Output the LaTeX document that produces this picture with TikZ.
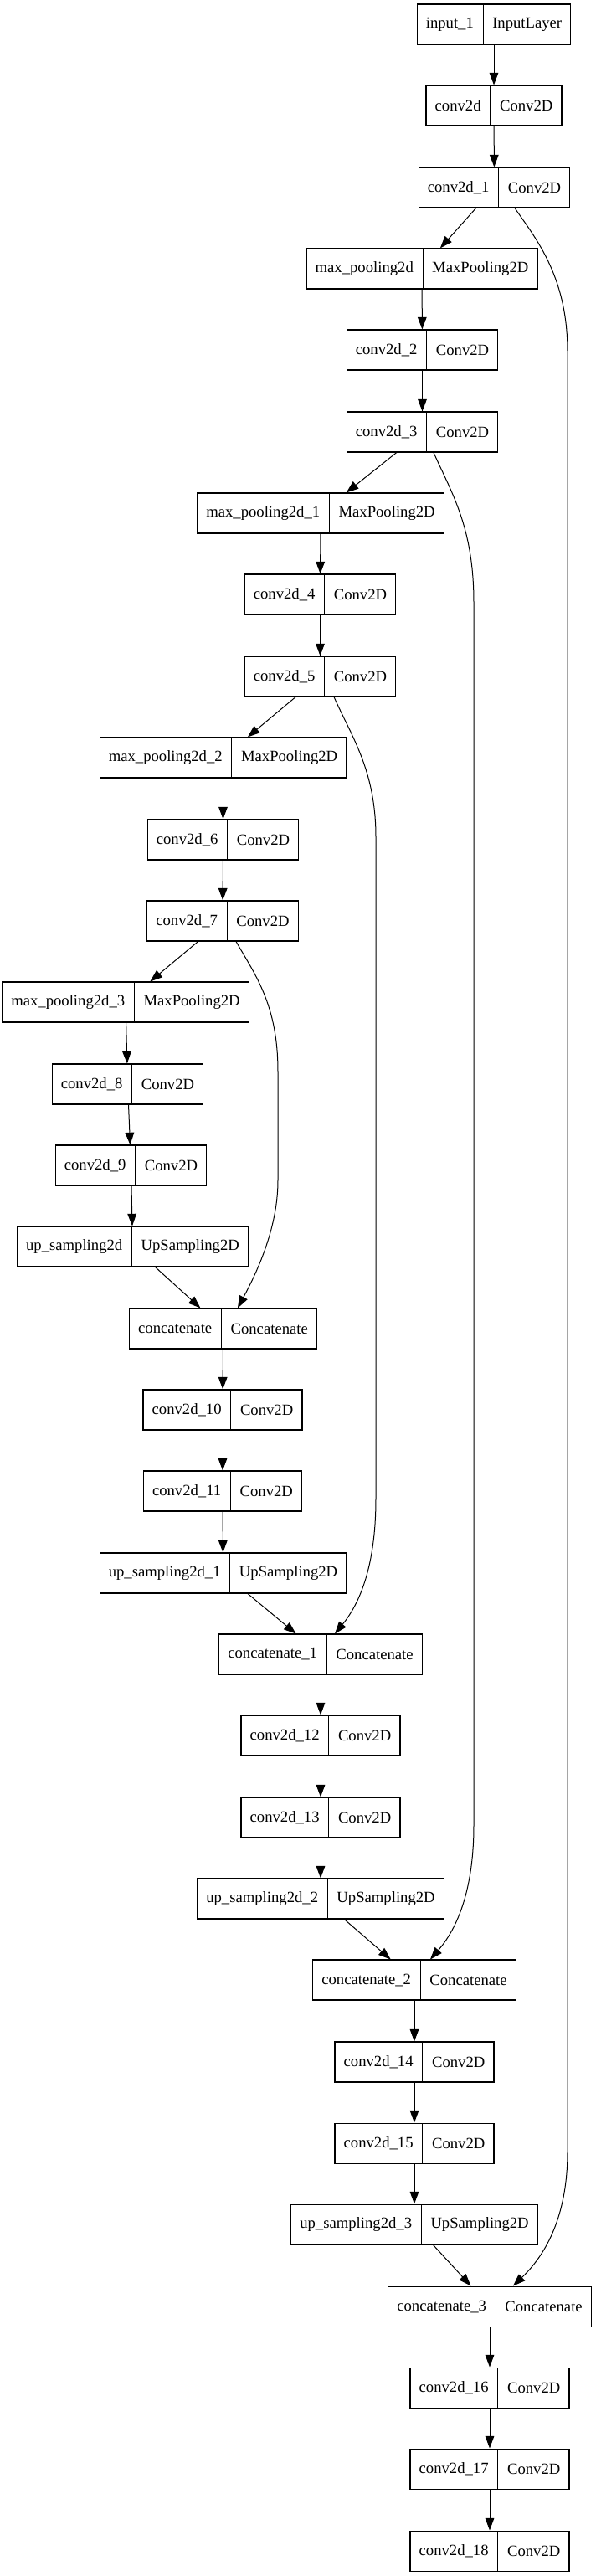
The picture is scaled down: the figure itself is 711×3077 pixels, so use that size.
\documentclass[tikz,border=0pt]{standalone}
\usepackage{fontspec}
\setmainfont{Liberation Serif}
\usetikzlibrary{shapes.multipart,arrows.meta}
\tikzset{
  layer/.style={draw, line width=0.8pt, rectangle split, rectangle split horizontal, rectangle split parts=2,
    inner xsep=8pt, minimum height=36pt, font=\fontsize{14pt}{17pt}\selectfont},
  edge/.style={-{Triangle[length=11pt,width=8pt]}, line width=0.75pt}
}
\begin{document}
\begin{tikzpicture}[x=0.75pt,y=-0.75pt]
  \useasboundingbox (0,0) rectangle (711,3077);
  % encoder
  \node[layer] (input) at (590,29) {input\_1 \nodepart{two} InputLayer};
  \node[layer] (conv0) at (590,126) {conv2d \nodepart{two} Conv2D};
  \node[layer] (conv1) at (590.5,224) {conv2d\_1 \nodepart{two} Conv2D};
  \node[layer] (pool0) at (504,321) {max\_pooling2d \nodepart{two} MaxPooling2D};
  \node[layer] (conv2) at (504.5,418) {conv2d\_2 \nodepart{two} Conv2D};
  \node[layer] (conv3) at (504.5,516) {conv2d\_3 \nodepart{two} Conv2D};
  \node[layer] (pool1) at (383,613) {max\_pooling2d\_1 \nodepart{two} MaxPooling2D};
  \node[layer] (conv4) at (382.5,710) {conv2d\_4 \nodepart{two} Conv2D};
  \node[layer] (conv5) at (382.5,808) {conv2d\_5 \nodepart{two} Conv2D};
  \node[layer] (pool2) at (266.5,905) {max\_pooling2d\_2 \nodepart{two} MaxPooling2D};
  \node[layer] (conv6) at (266.5,1003) {conv2d\_6 \nodepart{two} Conv2D};
  \node[layer] (conv7) at (266,1100) {conv2d\_7 \nodepart{two} Conv2D};
  \node[layer] (pool3) at (150,1197) {max\_pooling2d\_3 \nodepart{two} MaxPooling2D};
  \node[layer] (conv8) at (152.5,1295) {conv2d\_8 \nodepart{two} Conv2D};
  \node[layer] (conv9) at (156.5,1392) {conv2d\_9 \nodepart{two} Conv2D};
  % decoder
  \node[layer] (up0) at (158.5,1489) {up\_sampling2d \nodepart{two} UpSampling2D};
  \node[layer] (cat0) at (266.5,1587) {concatenate \nodepart{two} Concatenate};
  \node[layer] (conv10) at (266,1684) {conv2d\_10 \nodepart{two} Conv2D};
  \node[layer] (conv11) at (266,1781) {conv2d\_11 \nodepart{two} Conv2D};
  \node[layer] (up1) at (266.5,1879) {up\_sampling2d\_1 \nodepart{two} UpSampling2D};
  \node[layer] (cat1) at (383,1976) {concatenate\_1 \nodepart{two} Concatenate};
  \node[layer] (conv12) at (383,2073) {conv2d\_12 \nodepart{two} Conv2D};
  \node[layer] (conv13) at (383,2171) {conv2d\_13 \nodepart{two} Conv2D};
  \node[layer] (up2) at (383,2268) {up\_sampling2d\_2 \nodepart{two} UpSampling2D};
  \node[layer] (cat2) at (495,2365) {concatenate\_2 \nodepart{two} Concatenate};
  \node[layer] (conv14) at (495,2463) {conv2d\_14 \nodepart{two} Conv2D};
  \node[layer] (conv15) at (495,2560) {conv2d\_15 \nodepart{two} Conv2D};
  \node[layer] (up3) at (495,2657) {up\_sampling2d\_3 \nodepart{two} UpSampling2D};
  \node[layer] (cat3) at (585,2755) {concatenate\_3 \nodepart{two} Concatenate};
  \node[layer] (conv16) at (585,2852) {conv2d\_16 \nodepart{two} Conv2D};
  \node[layer] (conv17) at (585,2949) {conv2d\_17 \nodepart{two} Conv2D};
  \node[layer] (conv18) at (585,3047) {conv2d\_18 \nodepart{two} Conv2D};

  \foreach \a/\b in {input/conv0, conv0/conv1, conv1/pool0, pool0/conv2, conv2/conv3, conv3/pool1,
      pool1/conv4, conv4/conv5, conv5/pool2, pool2/conv6, conv6/conv7, conv7/pool3, pool3/conv8,
      conv8/conv9, conv9/up0, up0/cat0, cat0/conv10, conv10/conv11, conv11/up1, up1/cat1,
      cat1/conv12, conv12/conv13, conv13/up2, up2/cat2, cat2/conv14, conv14/conv15, conv15/up3,
      up3/cat3, cat3/conv16, conv16/conv17, conv17/conv18}
    \draw[edge] (\a) -- (\b);

  % skip connections
  \coordinate (skip1a) at (678,420);
  \coordinate (skip1b) at (678,2570);
  \draw[edge] ([xshift=18.4pt]conv1.south) .. controls (640,285) and (678,330) .. (skip1a)
    -- (skip1b) .. controls (678,2650) and (650,2695) .. ([xshift=21pt]cat3.north);
  \coordinate (skip2a) at (566,720);
  \coordinate (skip2b) at (566,2180);
  \draw[edge] ([xshift=10.1pt]conv3.south) .. controls (540,590) and (566,630) .. (skip2a)
    -- (skip2b) .. controls (566,2260) and (545,2305) .. ([xshift=14.25pt]cat2.north);
  \coordinate (skip3a) at (449,1000);
  \coordinate (skip3b) at (449,1790);
  \draw[edge] ([xshift=12.4pt]conv5.south) .. controls (420,880) and (449,920) .. (skip3a)
    -- (skip3b) .. controls (449,1870) and (430,1915) .. ([xshift=12.75pt]cat1.north);
  \coordinate (skip4a) at (332,1280);
  \coordinate (skip4b) at (332,1410);
  \draw[edge] ([xshift=12pt]conv7.south) .. controls (305,1165) and (332,1200) .. (skip4a)
    -- (skip4b) .. controls (332,1470) and (304,1525) .. ([xshift=13.1pt]cat0.north);
\end{tikzpicture}
\end{document}
